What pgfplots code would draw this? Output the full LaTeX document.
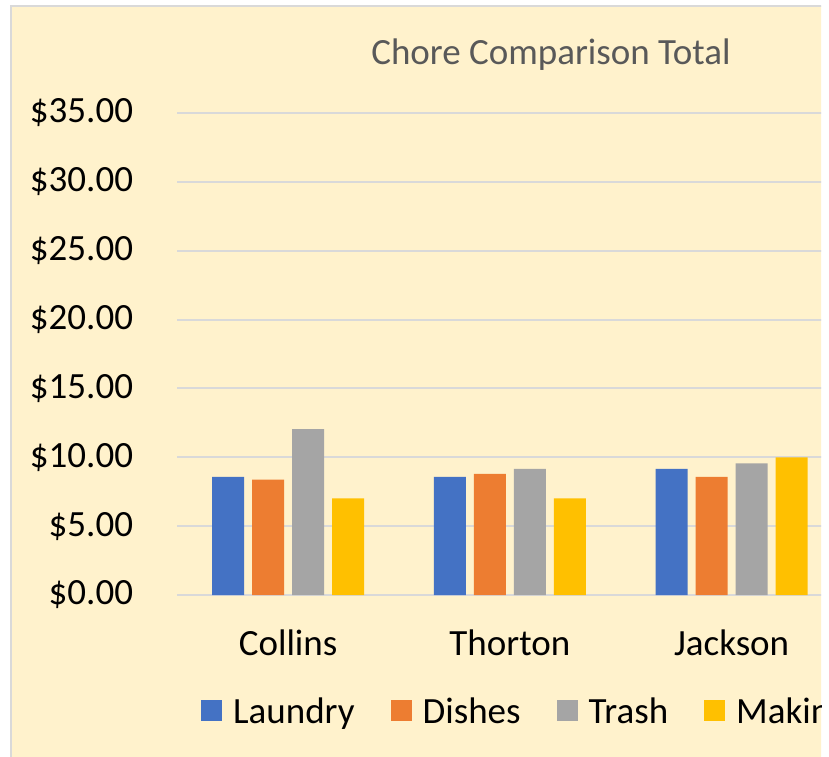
\documentclass[border=0pt]{standalone}
\usepackage{pgfplots}
\pgfplotsset{compat=1.18}
\usepackage{fontspec}
\setmainfont{Carlito}
\definecolor{bg}{HTML}{FFF2CC}
\definecolor{bordergray}{HTML}{D9D9D9}
\definecolor{gridgray}{HTML}{D9D9D9}
\definecolor{cblue}{HTML}{4472C4}
\definecolor{corange}{HTML}{ED7D31}
\definecolor{cgray}{HTML}{A5A5A5}
\definecolor{cyellow}{HTML}{FFC000}
\definecolor{titlegray}{HTML}{595959}
\begin{document}
\begin{tikzpicture}[x=1pt,y=1pt]
\path[use as bounding box] (0,0) rectangle (829,756);
\fill[white] (0,0) rectangle (829,756);
\clip (0,0) rectangle (821,756);
\filldraw[fill=bg, draw=bordergray, line width=2.5pt] (11,-20) rectangle (900,750);
\node[text=titlegray, font=\fontsize{37}{44}\selectfont] at (551,701) {Chore Comparison Total};
\begin{axis}[
  at={(177.25pt,161pt)}, anchor=south west,
  scale only axis, width=665.25pt, height=482pt,
  xmin=-0.5, xmax=2.5, ymin=0, ymax=35,
  ybar=8pt, bar width=32pt,
  axis line style={draw=none},
  major tick length=0pt,
  ymajorgrids, grid style={color=gridgray, line width=2pt},
  xtick={0,1,2}, xticklabels={Collins,Thorton,Jackson},
  ytick={0,5,10,15,20,25,30,35},
  yticklabels={\$0.00,\$5.00,\$10.00,\$15.00,\$20.00,\$25.00,\$30.00,\$35.00},
  tick label style={font=\fontsize{37}{44}\selectfont, text=black},
  yticklabel style={inner sep=0pt, xshift=-44pt},
  xticklabel style={inner sep=0pt, yshift=-35pt},
  legend columns=-1,
  legend style={at={(0.0357,-0.2405)}, anchor=west, draw=none, fill=none,
    inner sep=0pt, font=\fontsize{37}{44}\selectfont,
    nodes={inner sep=0pt},
    /tikz/every odd column/.append style={column sep=11pt},
    /tikz/every even column/.append style={column sep=36pt}},
  legend image code/.code={\fill[#1] (0pt,-10.5pt) rectangle (21pt,10.5pt);},
  clip=false,
]
\addplot[fill=cblue, draw=none] coordinates {(0,8.57) (1,8.57) (2,9.15)};
\addplot[fill=corange, draw=none] coordinates {(0,8.37) (1,8.79) (2,8.57)};
\addplot[fill=cgray, draw=none] coordinates {(0,12.05) (1,9.15) (2,9.56)};
\addplot[fill=cyellow, draw=none] coordinates {(0,7.02) (1,7.02) (2,10.0)};
\legend{Laundry,Dishes,Trash,Making Bed}
\end{axis}
\end{tikzpicture}
\end{document}
